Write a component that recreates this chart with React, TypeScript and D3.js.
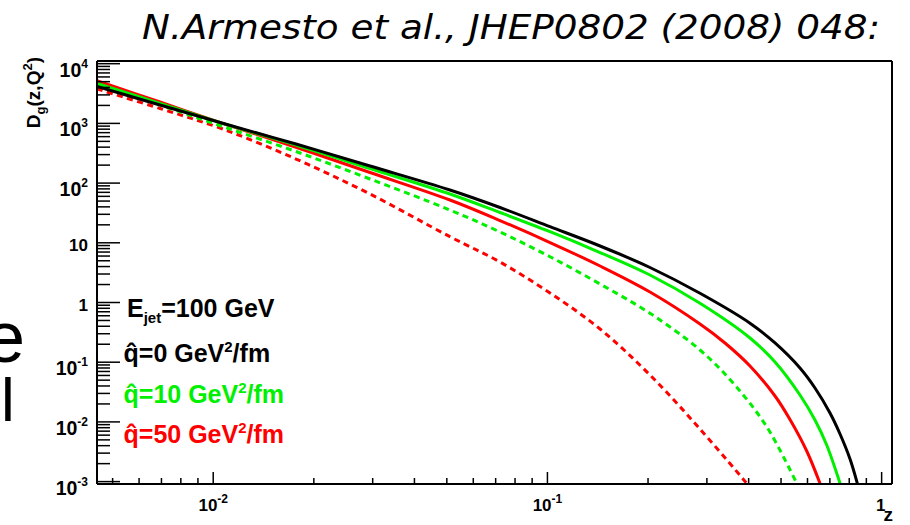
import React from "react";
import * as d3 from "d3";

const W = 910;
const H = 525;

// axis ticks
const xMajorTicks = [0.01, 0.1, 1];
const xTickBase = ["10", "10", "1"];
const xTickExp = ["-2", "-1", ""];
const yMajorTicks = [1e-3, 1e-2, 1e-1, 1, 10, 100, 1e3, 1e4];
const yTickBase = ["10", "10", "10", "1", "10", "10", "10", "10"];
const yTickExp = ["-3", "-2", "-1", "", "", "2", "3", "4"];

// q=0 (black solid)
const zBlack = [0.00449, 0.00693, 0.01067, 0.01769, 0.02945, 0.05109, 0.07211, 0.1018, 0.1437, 0.2027, 0.2861, 0.4037, 0.4797, 0.5697, 0.6318, 0.7006, 0.7507, 0.8042, 0.8457];
const dBlack = [4146, 2032, 1003, 451.5, 193.3, 76.6, 39.0, 18.6, 8.84, 3.857, 1.426, 0.45, 0.2098, 0.07994, 0.03697, 0.0141, 0.006273, 0.002391, 0.000937];
// q=10 (green solid)
const zGreen = [0.00449, 0.00693, 0.01067, 0.01769, 0.02945, 0.05109, 0.07211, 0.1018, 0.1437, 0.2027, 0.2861, 0.4037, 0.4797, 0.5697, 0.6318, 0.6848, 0.7507];
const dGreen = [4692, 2169, 1003, 434.4, 175.5, 65.66, 32.17, 15.34, 6.877, 2.887, 0.9694, 0.2543, 0.1008, 0.02822, 0.01076, 0.004104, 0.000937];
// q=50 (red solid)
const zRed = [0.00449, 0.00693, 0.01067, 0.01769, 0.02945, 0.05109, 0.07211, 0.1018, 0.1437, 0.2027, 0.2861, 0.3398, 0.4037, 0.4797, 0.5318, 0.5968, 0.6537];
const dRed = [5186, 2281, 1003, 397.6, 150.4, 52.1, 23.62, 10.11, 4.087, 1.499, 0.4363, 0.2098, 0.08641, 0.02716, 0.01097, 0.003256, 0.000937];
// q=10 (green dashed)
const zGreenDash = [0.00449, 0.00693, 0.01067, 0.01769, 0.02945, 0.05109, 0.07211, 0.1018, 0.1437, 0.2027, 0.2861, 0.3599, 0.453, 0.557];
const dGreenDash = [4567, 2032, 886.9, 338.1, 117.1, 35.42, 15.16, 5.848, 2.04, 0.6593, 0.1601, 0.04431, 0.008312, 0.000937];
// q=50 (red dashed)
const zRedDash = [0.00449, 0.00693, 0.01067, 0.01769, 0.02945, 0.05109, 0.07211, 0.1018, 0.1437, 0.2027, 0.2861, 0.3947];
const dRedDash = [3766, 1775, 805.2, 253.2, 65.66, 12.65, 4.767, 1.443, 0.3598, 0.06104, 0.007608, 0.000937];

const seriesZ = [zRedDash, zGreenDash, zRed, zGreen, zBlack];
const seriesD = [dRedDash, dGreenDash, dRed, dGreen, dBlack];
const seriesColor = ["#ff0000", "#00f000", "#ff0000", "#00f000", "#000000"];
const seriesDashed = [true, true, false, false, false];

// legend
const legendQ = ["0", "10", "50"];
const legendColor = ["#000000", "#00f000", "#ff0000"];

const FONT = "'Liberation Sans', Arial, Helvetica, sans-serif";

export default function App() {
  const left = 97, right = 892, top = 61, bottom = 484;
  const x = d3.scaleLog().domain([0.00449, 1.074]).range([left, right]);
  const y = d3.scaleLog().domain([Math.pow(10, -3.04), Math.pow(10, 4.045)]).range([bottom, top]);

  const line = d3
    .line<[number, number]>()
    .x((d) => x(d[0]))
    .y((d) => y(d[1]))
    .curve(d3.curveCatmullRom.alpha(0.5));

  // minor ticks
  const xMinor: number[] = [];
  for (let e = -3; e <= 0; e++) {
    for (let k = 2; k <= 9; k++) {
      const v = k * Math.pow(10, e);
      if (v > 0.00449 && v < 1.074) xMinor.push(v);
    }
  }
  const yMinor: number[] = [];
  for (let e = -4; e <= 4; e++) {
    for (let k = 2; k <= 9; k++) {
      const v = k * Math.pow(10, e);
      if (v > Math.pow(10, -3.04) && v < Math.pow(10, 4.045)) yMinor.push(v);
    }
  }

  const legendY = [361.5, 403, 443];

  return (
    <svg
      width={W}
      height={H}
      style={{ position: "absolute", left: 0, top: 0, background: "#fff" }}
      fontFamily={FONT}
    >
      <rect x={0} y={0} width={W} height={H} fill="#fff" />
      <defs>
        <clipPath id="plotclip">
          <rect x={left} y={top} width={right - left} height={bottom - top} />
        </clipPath>
      </defs>

      {/* title */}
      <text
        x={142}
        y={39}
        fontFamily="'DejaVu Sans Condensed', 'DejaVu Sans', sans-serif"
        fontStyle="italic"
        fontSize={34}
        textLength={738}
        lengthAdjust="spacingAndGlyphs"
        fill="#000"
      >
        N.Armesto et al., JHEP0802 (2008) 048:
      </text>

      {/* clipped slide text at left */}
      <text x={25} y={362} fontSize={72} textAnchor="end" fill="#000" fontFamily={FONT}>
        e
      </text>
      <text x={1} y={421} fontSize={62} fill="#000" fontFamily={FONT}>
        l
      </text>

      {/* curves */}
      <g clipPath="url(#plotclip)">
        {seriesZ.map((zs, i) => (
          <path
            key={i}
            d={line(zs.map((z, j) => [z, seriesD[i][j]]) as [number, number][]) || ""}
            fill="none"
            stroke={seriesColor[i]}
            strokeWidth={3}
            strokeDasharray={seriesDashed[i] ? "6,4.5" : undefined}
          />
        ))}
      </g>

      {/* frame */}
      <line x1={left} x2={right} y1={top} y2={top} stroke="#000" strokeWidth={2} />
      <line x1={right} x2={right} y1={top} y2={bottom} stroke="#000" strokeWidth={2} />
      <line x1={left} x2={right} y1={bottom} y2={bottom} stroke="#000" strokeWidth={2} />
      <line x1={left} x2={left} y1={top} y2={bottom} stroke="#000" strokeWidth={2} />

      {/* x ticks */}
      {xMajorTicks.map((v) => (
        <line key={"xM" + v} x1={x(v)} x2={x(v)} y1={bottom} y2={bottom - 12} stroke="#000" strokeWidth={1.5} />
      ))}
      {xMinor.map((v) => (
        <line key={"xm" + v} x1={x(v)} x2={x(v)} y1={bottom} y2={bottom - 6} stroke="#000" strokeWidth={1.5} />
      ))}
      {xMajorTicks.map((v, i) => (
        <text
          key={"xl" + v}
          x={x(v) - (xTickExp[i] ? 0 : 1)}
          y={511}
          textAnchor="middle"
          fontWeight="bold"
          fontSize={17}
          fill="#000"
        >
          {xTickBase[i]}
          {xTickExp[i] ? (
            <tspan dy={-8} fontSize={12}>
              {xTickExp[i]}
            </tspan>
          ) : null}
        </text>
      ))}
      <text x={893} y={521} textAnchor="end" fontWeight="bold" fontSize={19} fill="#000">
        z
      </text>

      {/* y ticks */}
      {yMajorTicks.map((v) => (
        <line key={"yM" + v} x1={left} x2={left + 23} y1={y(v)} y2={y(v)} stroke="#000" strokeWidth={1.5} />
      ))}
      {yMinor.map((v) => (
        <line key={"ym" + v} x1={left} x2={left + 13} y1={y(v)} y2={y(v)} stroke="#000" strokeWidth={1.5} />
      ))}
      {yMajorTicks.map((v, i) =>
        yTickExp[i] ? (
          <text key={"yl" + v} x={88} y={y(v) + 13} textAnchor="end" fontWeight="bold" fontSize={19.5} fill="#000">
            {yTickBase[i]}
            <tspan dy={-9} fontSize={12}>
              {yTickExp[i]}
            </tspan>
          </text>
        ) : (
          <text key={"yl" + v} x={88} y={y(v) + 8} textAnchor="end" fontWeight="bold" fontSize={17} fill="#000">
            {yTickBase[i]}
          </text>
        )
      )}

      {/* y title */}
      <text
        transform="translate(40,57) rotate(-90)"
        textAnchor="end"
        fontWeight="bold"
        fontSize={19}
        fill="#000"
      >
        D
        <tspan dy={5} fontSize={13}>
          g
        </tspan>
        <tspan dy={-5}>(z,Q</tspan>
        <tspan dy={-8} fontSize={13}>
          2
        </tspan>
        <tspan dy={8}>)</tspan>
      </text>

      {/* legend */}
      <text x={127} y={317} fontWeight="bold" fontSize={25} fill="#000">
        E
        <tspan dy={6} fontSize={15}>
          jet
        </tspan>
        <tspan dy={-6}>=100 GeV</tspan>
      </text>
      {legendQ.map((q, i) => (
        <g key={"lg" + q}>
          <text x={123.5} y={legendY[i]} fontWeight="bold" fontSize={25} fill={legendColor[i]}>
            q={q} GeV
            <tspan dy={-10} fontSize={15}>
              2
            </tspan>
            <tspan dy={10}>/fm</tspan>
          </text>
          <text x={131} y={legendY[i] + 1} textAnchor="middle" fontWeight="bold" fontSize={27} fill={legendColor[i]}>
            ˆ
          </text>
        </g>
      ))}
    </svg>
  );
}
